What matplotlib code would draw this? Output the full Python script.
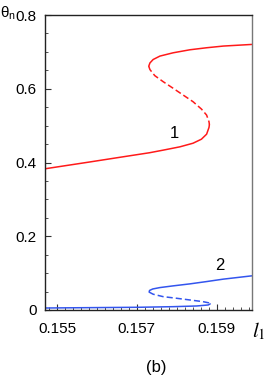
import matplotlib
matplotlib.use('Agg')
import matplotlib.pyplot as plt
from matplotlib.ticker import MultipleLocator, FixedLocator

plt.rcParams['font.family'] = ['Liberation Sans Narrow', 'Liberation Sans', 'DejaVu Sans']

##---- 数据: 曲线 1 (红色) —— l1 与 theta_n, 读自原图
# 上稳定分支
red_up_l = [0.15988, 0.15917, 0.15875, 0.15833, 0.15791, 0.15758, 0.15741, 0.15733, 0.15730]
red_up_t = [0.7202, 0.7158, 0.7112, 0.7057, 0.6975, 0.6886, 0.6793, 0.6700, 0.6610]
# 不稳定分支 (虚线)
red_mid_l = [0.15730, 0.15733, 0.15745, 0.15766, 0.15791, 0.15816, 0.15841, 0.15862, 0.15875, 0.15881, 0.15882]
red_mid_t = [0.6610, 0.6520, 0.6357, 0.6193, 0.6014, 0.5831, 0.5649, 0.5450, 0.5286, 0.5104, 0.5030]
# 下稳定分支
red_low_l = [0.15882, 0.15881, 0.15875, 0.15862, 0.15841, 0.15808, 0.15766, 0.15732, 0.15657, 0.15582, 0.15469]
red_low_t = [0.5030, 0.4951, 0.4768, 0.4632, 0.4523, 0.4425, 0.4335, 0.4265, 0.4140, 0.4014, 0.3828]

##---- 数据: 曲线 2 (蓝色)
blue_up_l = [0.15988, 0.15917, 0.15875, 0.15833, 0.15791, 0.15758, 0.15740, 0.15732, 0.15731]
blue_up_t = [0.0926, 0.0837, 0.0771, 0.0708, 0.0654, 0.0608, 0.0570, 0.0530, 0.0485]
blue_mid_l = [0.15731, 0.15741, 0.15766, 0.15799, 0.15833, 0.15866, 0.15880, 0.15884]
blue_mid_t = [0.0485, 0.0428, 0.0362, 0.0319, 0.0272, 0.0226, 0.0195, 0.0165]
blue_low_l = [0.15884, 0.15879, 0.15850, 0.15791, 0.15707, 0.15469]
blue_low_t = [0.0165, 0.0136, 0.0109, 0.0090, 0.0074, 0.0054]

# 坐标轴刻度
x_ticks = [0.155, 0.157, 0.159]
x_tick_labels = ['0.155', '0.157', '0.159']
y_ticks = [0, 0.2, 0.4, 0.6, 0.8]
y_tick_labels = ['0', '0.2', '0.4', '0.6', '0.8']

red = '#ff1a1a'
blue = '#3355ee'

fig = plt.figure(figsize=(2.73, 3.82), dpi=100)
ax = fig.add_axes([0.1648, 0.1885, 0.7601, 0.7722])

# 绘制曲线
ax.plot(red_up_l, red_up_t, color=red, lw=1.1, solid_capstyle='round', solid_joinstyle='round')
ax.plot(red_mid_l, red_mid_t, color=red, lw=1.1, linestyle=(0, (4, 2)))
ax.plot(red_low_l, red_low_t, color=red, lw=1.1, solid_capstyle='round', solid_joinstyle='round')
ax.plot(blue_up_l, blue_up_t, color=blue, lw=1.1, solid_capstyle='round', solid_joinstyle='round')
ax.plot(blue_mid_l, blue_mid_t, color=blue, lw=1.1, linestyle=(0, (4, 2)))
ax.plot(blue_low_l, blue_low_t, color=blue, lw=1.1, solid_capstyle='round', solid_joinstyle='round')

# 曲线编号
ax.text(0.157935, 0.4787, '1', fontsize=12, ha='center', va='center')
ax.text(0.159083, 0.121, '2', fontsize=12, ha='center', va='center')

ax.set_xlim(0.1547, 0.1599)
ax.set_ylim(0, 0.8)
ax.xaxis.set_major_locator(FixedLocator(x_ticks))
ax.set_xticklabels(x_tick_labels)
ax.xaxis.set_minor_locator(MultipleLocator(0.0002))
ax.yaxis.set_major_locator(FixedLocator(y_ticks))
ax.set_yticklabels(y_tick_labels)
ax.yaxis.set_minor_locator(MultipleLocator(0.05))
ax.tick_params(which='both', direction='in', top=False, right=False, labelsize=11, color='#333333')
ax.tick_params(which='major', length=4, width=0.8)
ax.tick_params(which='minor', length=2.5, width=0.6)
ax.tick_params(axis='x', pad=9)
ax.tick_params(axis='y', pad=6)

for s in ['left', 'bottom', 'top']:
    ax.spines[s].set_color('#222222')
    ax.spines[s].set_linewidth(1.0)
ax.spines['right'].set_color('#777777')
ax.spines['right'].set_linewidth(1.0)

# 轴标签 (放在图的角上)
fig.text(0.0, 0.965, r'$\mathregular{\theta_n}$', fontsize=11, ha='left', va='center')
fig.text(0.922, 0.133, r'$l_1$', fontsize=15, ha='left', va='center', math_fontfamily='stix')
fig.text(0.571, 0.037, '(b)', fontsize=12, ha='center', va='center')

plt.savefig('out.png', dpi=100)
